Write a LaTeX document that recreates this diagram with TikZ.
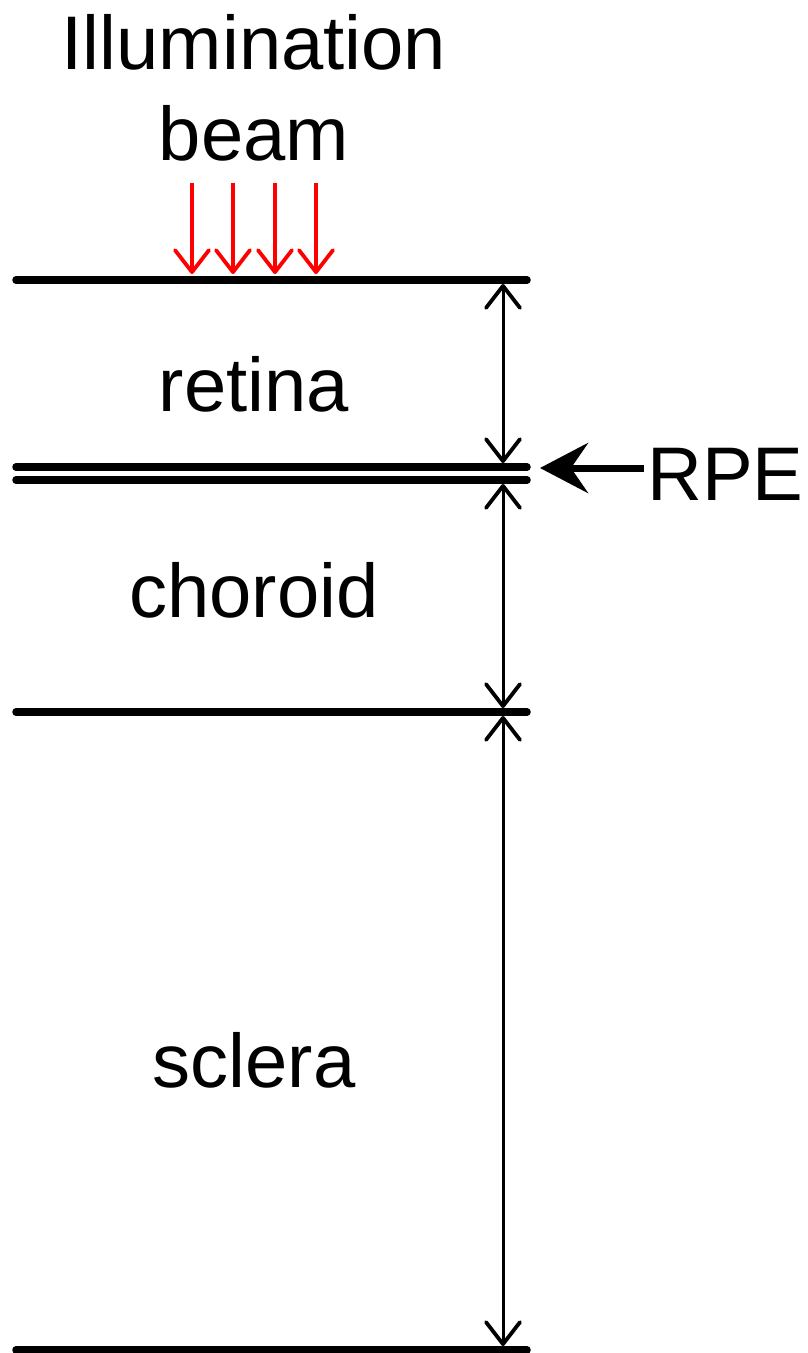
\documentclass[tikz,border=0pt]{standalone}
\usepackage{fontspec}
\setmainfont{Liberation Sans}
\usetikzlibrary{arrows.meta}
\tikzset{
  layer/.style={line width=7.5pt, line cap=round},
  barb/.style={Straight Barb[length=22pt,width=34pt,round,line width=3.8pt]},
  dim/.style={line width=3pt, {Straight Barb[length=22pt,width=34pt,round,line width=3.8pt]}-{Straight Barb[length=22pt,width=34pt,round,line width=3.8pt]}},
  beam/.style={red, line width=3.8pt, -{Straight Barb[length=22pt,width=34pt,round]}},
  pointer/.style={line width=7pt, -{Stealth[length=48pt,width=50pt,inset=17pt]}},
  lbl/.style={font=\fontsize{76}{80}\selectfont, inner sep=0pt, anchor=base}
}
\begin{document}
\begin{tikzpicture}[x=1pt,y=-1pt]
\useasboundingbox (0,0) rectangle (807,1353);

% layer boundaries
\coordinate (r1L) at (16,280);  \coordinate (r1R) at (527,280);
\coordinate (p1L) at (16,467);  \coordinate (p1R) at (527,467);
\coordinate (p2L) at (16,480);  \coordinate (p2R) at (527,480);
\coordinate (c1L) at (16,712);  \coordinate (c1R) at (527,712);
\coordinate (s1L) at (16,1350); \coordinate (s1R) at (527,1350);
\draw[layer] (r1L) -- (r1R);
\draw[layer] (p1L) -- (p1R);
\draw[layer] (p2L) -- (p2R);
\draw[layer] (c1L) -- (c1R);
\draw[layer] (s1L) -- (s1R);

% thickness markers
\coordinate (d1a) at (503,284);  \coordinate (d1b) at (503,463);
\coordinate (d2a) at (503,484);  \coordinate (d2b) at (503,708);
\coordinate (d3a) at (503,716);  \coordinate (d3b) at (503,1346);
\draw[dim] (d1a) -- (d1b);
\draw[dim] (d2a) -- (d2b);
\draw[dim] (d3a) -- (d3b);

% labels
\node[lbl] (ill) at (254,69) {Illumination};
\node[lbl] (bm) at (254,160) {beam};
\node[lbl] (ret) at (254,411) {retina};
\node[lbl] (cho) at (254,617) {choroid};
\node[lbl] (scl) at (254,1087) {sclera};
\node[lbl, anchor=base west] (rpe) at (647,500) {RPE};

% illumination beam
\foreach \i/\x in {1/192,2/233,3/275,4/316}{
  \coordinate (bt\i) at (\x,183);
  \coordinate (bb\i) at (\x,274);
  \draw[beam] (bt\i) -- (bb\i);
}

% RPE pointer
\coordinate (rpeTip) at (540,468);
\draw[pointer] (rpe.west |- rpeTip) ++(-3,0) coordinate (rpeTail) -- (rpeTip);
\end{tikzpicture}
\end{document}
